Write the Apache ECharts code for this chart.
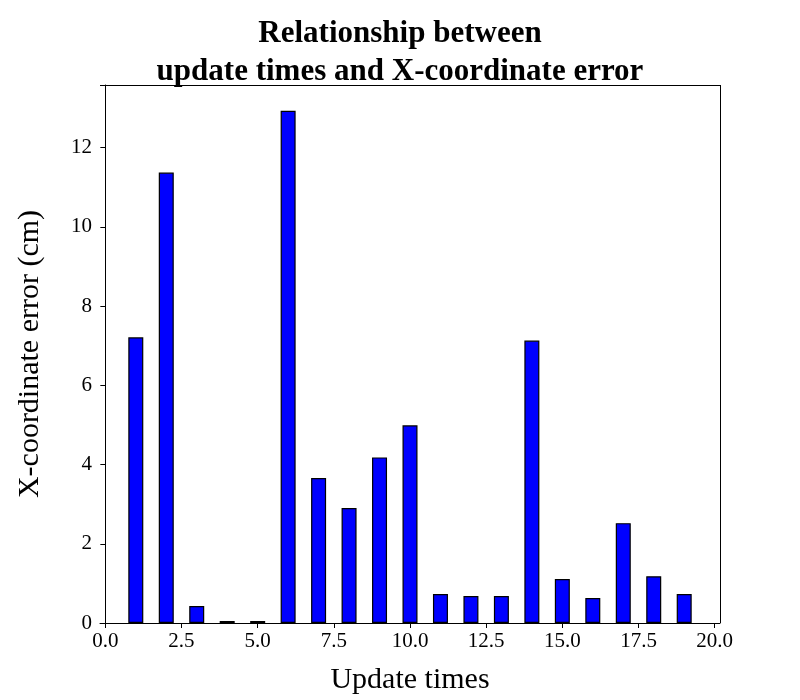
<!DOCTYPE html>
<html>
<head>
<meta charset="utf-8">
<script src="https://cdn.jsdelivr.net/npm/echarts@6/dist/echarts.min.js"></script>
<style>html,body{margin:0;padding:0;background:#fff}#chart{width:800px;height:700px}</style>
</head>
<body>
<div id="chart"></div>
<script>
// update index and x-coordinate error (cm)
var updates = [1, 2, 3, 4, 5, 6, 7, 8, 9, 10, 11, 12, 13, 14, 15, 16, 17, 18, 19];
var errors = [7.21, 11.37, 0.43, 0.05, 0.05, 12.93, 3.66, 2.9, 4.18, 4.99, 0.73, 0.68, 0.68, 7.13, 1.11, 0.63, 2.52, 1.18, 0.73];
var xTicks = [0, 2.5, 5, 7.5, 10, 12.5, 15, 17.5, 20];

var font = 'Liberation Serif';
var chart = echarts.init(document.getElementById('chart'));
var option = {
  animation: false,
  title: {
    text: 'Relationship between\nupdate times and X-coordinate error',
    left: 'center',
    top: 10,
    textStyle: { fontFamily: font, fontSize: 31, fontWeight: 'bold', color: '#000', lineHeight: 38 }
  },
  grid: { left: 100, right: 80, top: 85, bottom: 77 },
  xAxis: {
    type: 'value',
    min: -0.175,
    max: 20.175,
    name: 'Update times',
    nameLocation: 'middle',
    nameGap: 42,
    nameTextStyle: { fontFamily: font, fontSize: 30, color: '#000' },
    splitLine: { show: false },
    axisLine: { show: true, onZero: false, lineStyle: { color: '#000' } },
    axisTick: { show: true, inside: false, length: 5, lineStyle: { color: '#000' }, customValues: xTicks },
    axisLabel: {
      fontFamily: font, fontSize: 21, color: '#000', customValues: xTicks,
      formatter: function (v) { return v.toFixed(1); }
    }
  },
  yAxis: {
    type: 'value',
    min: 0,
    max: 13.58,
    interval: 2,
    name: 'X-coordinate error (cm)',
    nameLocation: 'middle',
    nameGap: 55,
    nameTextStyle: { fontFamily: font, fontSize: 30, color: '#000' },
    splitLine: { show: false },
    axisLine: { show: true, lineStyle: { color: '#000' } },
    axisTick: { show: true, length: 5, lineStyle: { color: '#000' } },
    axisLabel: {
      fontFamily: font, fontSize: 21, color: '#000',
      formatter: function (v) { return v % 2 === 0 ? String(v) : ''; }
    }
  },
  series: [{
    type: 'bar',
    barWidth: 15,
    data: updates.map(function (u, i) { return [u, errors[i]]; }),
    itemStyle: { color: '#0000ff', borderColor: '#000', borderWidth: 1.2 }
  }, {
    // frame on top and right
    type: 'line',
    data: [],
    markLine: {
      silent: true, symbol: 'none', label: { show: false },
      lineStyle: { color: '#000', type: 'solid', width: 1 },
      data: [
        [{ coord: [-0.175, 13.58] }, { coord: [20.175, 13.58] }],
        [{ coord: [20.175, 0] }, { coord: [20.175, 13.58] }]
      ]
    }
  }]
};
chart.setOption(option);
</script>
</body>
</html>
